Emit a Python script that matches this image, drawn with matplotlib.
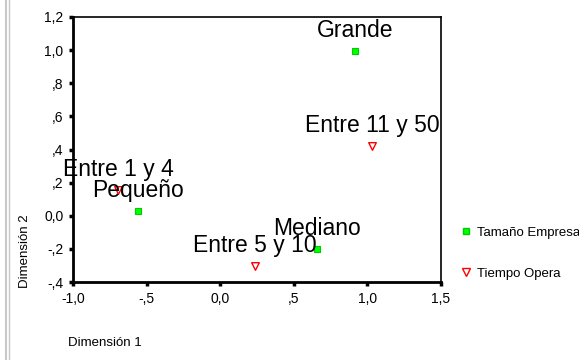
import matplotlib.pyplot as plt
from matplotlib.lines import Line2D

plt.rcParams['font.family'] = ['Liberation Sans', 'DejaVu Sans']

# Tamaño Empresa (green squares)
tam_labels = ['Grande', 'Pequeño', 'Mediano']
tam_x = [0.916, -0.558, 0.658]
tam_y = [0.995, 0.029, -0.201]

# Tiempo Opera (red triangles)
tiempo_labels = ['Entre 1 y 4', 'Entre 11 y 50', 'Entre 5 y 10']
tiempo_x = [-0.694, 1.031, 0.236]
tiempo_y = [0.155, 0.421, -0.304]

xticks = [-1.0, -0.5, 0.0, 0.5, 1.0, 1.5]
xticklabels = ['-1,0', '-,5', '0,0', ',5', '1,0', '1,5']
yticks = [1.2, 1.0, 0.8, 0.6, 0.4, 0.2, 0.0, -0.2, -0.4]
yticklabels = ['1,2', '1,0', ',8', ',6', ',4', ',2', '0,0', '-,2', '-,4']

fig = plt.figure(figsize=(5.79, 3.6), dpi=100)
ax = fig.add_axes([73 / 579, 1 - 282 / 360, 368 / 579, 265 / 360])

ax.scatter(tam_x, tam_y, marker='s', s=22, c='#00ff00', edgecolors='#00cc00',
           linewidths=0.8, zorder=3)
ax.scatter(tiempo_x, tiempo_y, marker='v', s=30, c='white', edgecolors='red',
           linewidths=1.0, zorder=3)

for lab, x, y in zip(tam_labels + tiempo_labels, tam_x + tiempo_x, tam_y + tiempo_y):
    ax.annotate(lab, (x, y), xytext=(0, 14.5), textcoords='offset points',
                ha='center', va='center', fontsize=16.5, color='black', zorder=4)

ax.set_xlim(-1.0, 1.5)
ax.set_ylim(-0.4, 1.2)
ax.set_xticks(xticks)
ax.set_xticklabels(xticklabels)
ax.set_yticks(yticks)
ax.set_yticklabels(yticklabels)
ax.tick_params(direction='out', length=3, width=2.5, labelsize=10, pad=4)

for side in ['left', 'bottom']:
    ax.spines[side].set_linewidth(2)
for side in ['top', 'right']:
    ax.spines[side].set_linewidth(1.2)

fig.text(25 / 579, 1 - 251 / 360, 'Dimensión 2', rotation=90, fontsize=9.5,
         ha='center', va='center')
fig.text(68 / 579, 1 - 343 / 360, 'Dimensión 1', fontsize=9.5,
         ha='left', va='center')

# legend drawn by hand on the right side
handles = [
    Line2D([], [], linestyle='none', marker='s', markersize=5,
           markerfacecolor='#00ff00', markeredgecolor='#00cc00'),
    Line2D([], [], linestyle='none', marker='v', markersize=6,
           markerfacecolor='white', markeredgecolor='red'),
]
fig.legend(handles, ['Tamaño Empresa', 'Tiempo Opera'], loc='upper left',
           bbox_to_anchor=(451 / 579, 1 - 220 / 360), frameon=False,
           fontsize=9.5, handlelength=1.2, handletextpad=0.3, labelspacing=2.2,
           borderpad=0)

# grey border line at the left edge
fig.add_artist(Line2D([6 / 579, 6 / 579], [0, 1], color='#c8c8c8', lw=1.5))
fig.add_artist(Line2D([9 / 579, 9 / 579], [0, 1], color='#c8c8c8', lw=1.0))

fig.savefig('out.png', dpi=100)
